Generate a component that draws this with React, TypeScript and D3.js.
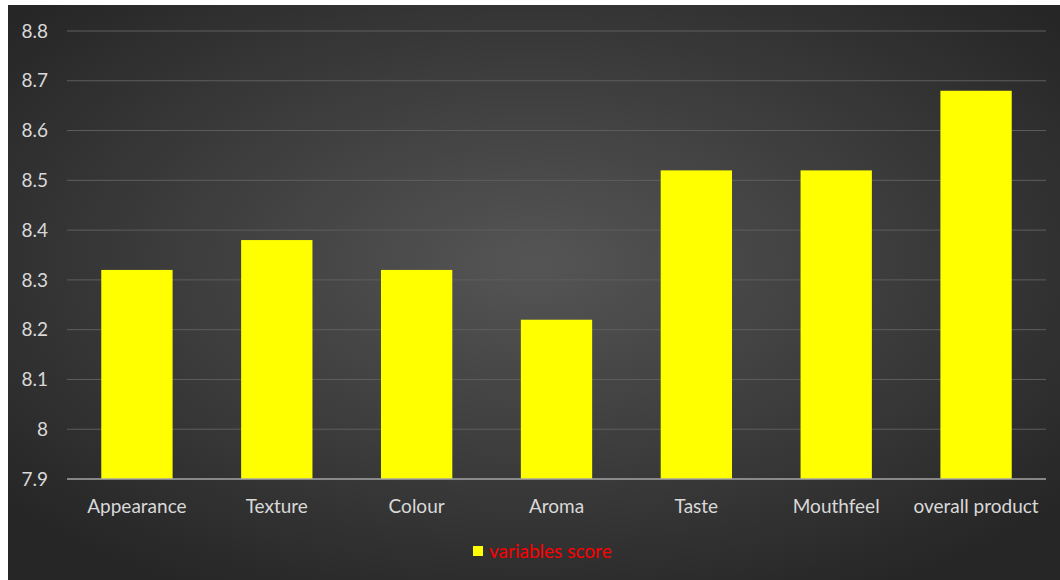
import React from 'react';
import * as d3 from 'd3';

const categories = ['Appearance', 'Texture', 'Colour', 'Aroma', 'Taste', 'Mouthfeel', 'overall product'];
const scores = [8.32, 8.38, 8.32, 8.22, 8.52, 8.52, 8.68];
const yTicks = [7.9, 8.0, 8.1, 8.2, 8.3, 8.4, 8.5, 8.6, 8.7, 8.8];
const seriesName = 'variables score';

const W = 1060;
const H = 580;
const margin = { top: 31, right: 14, bottom: 101, left: 67 };

export default function App() {
    const innerW = W - margin.left - margin.right;
    const innerH = H - margin.top - margin.bottom;

    const x = d3.scaleBand<string>().domain(categories).range([0, innerW]).paddingInner(0.49).paddingOuter(0.245);
    const y = d3.scaleLinear().domain([7.9, 8.8]).range([innerH, 0]);

    const font = 'Lato, "Noto Sans", sans-serif';

    return (
        <svg width={W} height={H} style={{ position: 'absolute', left: 0, top: 0, background: '#fff' }}>
            <defs>
                <radialGradient id="bg" cx="50%" cy="45%" r="65%">
                    <stop offset="0%" stopColor="#555555" />
                    <stop offset="100%" stopColor="#262626" />
                </radialGradient>
            </defs>
            <rect x={8} y={5} width={W - 8} height={H - 5} fill="url(#bg)" />
            <g transform={`translate(${margin.left},${margin.top})`}>
                {yTicks.slice(1).map(t => (
                    <line key={t} x1={0} x2={innerW} y1={y(t)} y2={y(t)} stroke="#5e5e5e" strokeWidth={1} />
                ))}
                {yTicks.map(t => (
                    <text key={'l' + t} x={-19} y={y(t)} dy="0.35em" textAnchor="end"
                        fill="#d9d9d9" fontSize={19} fontFamily={font}>
                        {d3.format('~g')(Number(t.toFixed(1)))}
                    </text>
                ))}
                {categories.map((c, i) => (
                    <rect key={c} x={x(c)} y={y(scores[i])} width={x.bandwidth()}
                        height={y(7.9) - y(scores[i])} fill="#ffff00" />
                ))}
                <line x1={0} x2={innerW} y1={innerH} y2={innerH} stroke="#a6a6a6" strokeWidth={1.5} />
                {categories.map(c => (
                    <text key={'x' + c} x={(x(c) ?? 0) + x.bandwidth() / 2} y={innerH + 27} dy="0.35em"
                        textAnchor="middle" fill="#d9d9d9" fontSize={19} fontFamily={font}>
                        {c}
                    </text>
                ))}
            </g>
            <rect x={473} y={546} width={10} height={10} fill="#ffff00" />
            <text x={489} y={551} dy="0.35em" fill="#ff0000" fontSize={19} fontFamily={font}>{seriesName}</text>
        </svg>
    );
}
